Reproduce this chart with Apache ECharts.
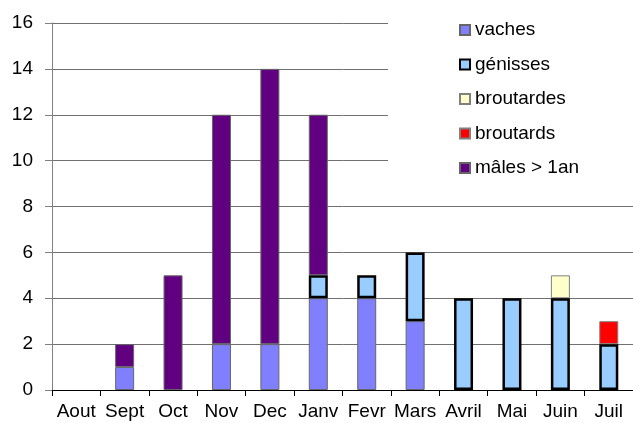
<!DOCTYPE html>
<html>
<head>
<meta charset="utf-8">
<script src="https://cdn.jsdelivr.net/npm/echarts@6/dist/echarts.min.js"></script>
<style>
  html, body { margin: 0; padding: 0; background: #fff; overflow: hidden; }
  #chart { width: 633px; height: 423px; }
</style>
</head>
<body>
<div id="chart"></div>
<script>
// mois
const months = ['Aout', 'Sept', 'Oct', 'Nov', 'Dec', 'Janv', 'Fevr', 'Mars', 'Avril', 'Mai', 'Juin', 'Juil'];

// effectifs par catégorie
const vaches      = [0, 1, 0, 2, 2, 4, 4, 3, 0, 0, 0, 0];
const genisses    = [0, 0, 0, 0, 0, 1, 1, 3, 4, 4, 4, 2];
const broutardes  = [0, 0, 0, 0, 0, 0, 0, 0, 0, 0, 1, 0];
const broutards   = [0, 0, 0, 0, 0, 0, 0, 0, 0, 0, 0, 1];
const males       = [0, 1, 5, 10, 12, 7, 0, 0, 0, 0, 0, 0];

const yTicks = [0, 2, 4, 6, 8, 10, 12, 14, 16];

const chart = echarts.init(document.getElementById('chart'));

const font = '"Liberation Sans", Arial, sans-serif';

// 0 -> pas de barre (sinon la bordure dessine un trait)
const clean = arr => arr.map(v => (v === 0 ? '-' : v));

const barBase = {
  type: 'bar',
  stack: 'total',
  barWidth: 19,
  animation: false
};

chart.setOption({
  backgroundColor: '#fff',
  textStyle: { fontFamily: font },
  // fond blanc de la légende qui masque le quadrillage
  legend: {
    orient: 'vertical',
    left: 388,
    top: 4,
    padding: [16, 60, 16, 71],
    backgroundColor: '#fff',
    icon: 'rect',
    itemWidth: 10,
    itemHeight: 10,
    itemGap: 14.5,
    textStyle: { fontSize: 19, color: '#000', lineHeight: 20 },
    data: ['vaches', 'génisses', 'broutardes', 'broutards', 'mâles > 1an']
  },
  grid: {
    left: 52,
    right: 0,
    top: 23,
    bottom: 33
  },
  xAxis: {
    type: 'category',
    data: months,
    axisLine: { lineStyle: { color: '#000', width: 1 } },
    axisTick: { show: true, interval: 0, length: 6, lineStyle: { color: '#000' } },
    axisLabel: { interval: 0, fontSize: 19, color: '#000', margin: 12 },
    splitLine: { show: false }
  },
  yAxis: {
    type: 'value',
    min: yTicks[0],
    max: yTicks[yTicks.length - 1],
    interval: 2,
    axisLine: { show: true, lineStyle: { color: '#808080' } },
    axisTick: { show: true, length: 7, lineStyle: { color: '#808080' } },
    axisLabel: { fontSize: 19, color: '#000', margin: 19 },
    splitLine: { lineStyle: { color: '#707070', width: 1 } }
  },
  series: [
    {
      ...barBase,
      name: 'vaches',
      data: clean(vaches),
      itemStyle: { color: '#8080FF', borderColor: '#666', borderWidth: 1 }
    },
    {
      ...barBase,
      name: 'génisses',
      z: 3,
      data: clean(genisses),
      itemStyle: { color: '#99CCFF', borderColor: '#000', borderWidth: 2.5 }
    },
    {
      ...barBase,
      name: 'broutardes',
      data: clean(broutardes),
      itemStyle: { color: '#FFFFCC', borderColor: '#808080', borderWidth: 1 }
    },
    {
      ...barBase,
      name: 'broutards',
      data: clean(broutards),
      itemStyle: { color: '#FF0000', borderColor: '#808080', borderWidth: 1 }
    },
    {
      ...barBase,
      name: 'mâles > 1an',
      data: clean(males),
      itemStyle: { color: '#600080', borderColor: '#666', borderWidth: 1 }
    }
  ]
});
</script>
</body>
</html>
